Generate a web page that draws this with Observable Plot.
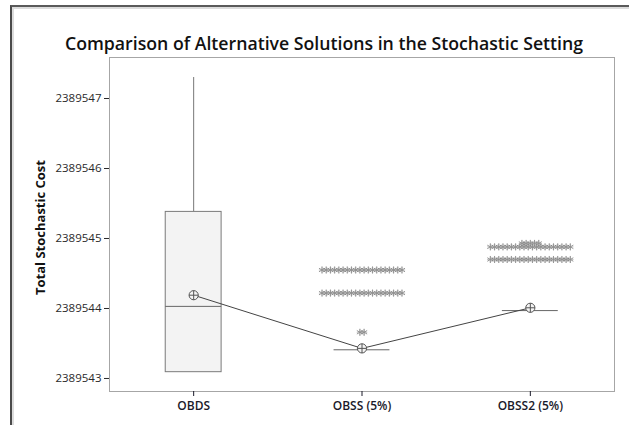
<!DOCTYPE html>
<html><head><meta charset="utf-8">
<script src="https://cdn.jsdelivr.net/npm/d3@7"></script>
<script src="https://cdn.jsdelivr.net/npm/@observablehq/plot@0.6"></script>
<style>
html,body{margin:0;padding:0;background:#fff;}
#wrap{position:relative;width:629px;height:425px;overflow:hidden;background:#fff;}
#border{position:absolute;left:10px;top:5px;width:700px;height:500px;border-top:2px solid #5a5a5a;border-left:2px solid #4a4a4a;box-shadow:inset 2px 2px 0 #dcdcdc;}
#chart{position:absolute;left:0;top:0;}
</style></head><body><div id="wrap"><div id="border"></div><div id="chart"></div></div>
<script>
const title = "Comparison of Alternative Solutions in the Stochastic Setting";
const yLabel = "Total Stochastic Cost";
const categories = ["OBDS", "OBSS (5%)", "OBSS2 (5%)"];
const yTicks = [2389543, 2389544, 2389545, 2389546, 2389547];
const whiskerLow  = [2389543.09, 2389543.41, 2389543.97];
const q1          = [2389543.09, 2389543.41, 2389543.97];
const median      = [2389544.03, 2389543.41, 2389543.97];
const q3          = [2389545.38, 2389543.41, 2389543.97];
const whiskerHigh = [2389547.30, 2389543.41, 2389543.97];
const means       = [2389544.19, 2389543.43, 2389544.01];
// outlier groups: category index, value, number of observations at that value
const outlierCat   = [1, 1, 1, 2, 2, 2];
const outlierValue = [2389544.55, 2389544.22, 2389543.66, 2389544.93, 2389544.88, 2389544.70];
const outlierCount = [20, 20, 2, 5, 20, 20];

const halfBox = 0.166;
const outlierStep = 0.025;
const idx = categories.map((_, i) => i);

// spread repeated outliers side by side (like Minitab)
const outliers = [];
outlierCat.forEach((c, g) => {
  const n = outlierCount[g];
  for (let k = 0; k < n; k++) {
    outliers.push({x: c + (k - (n - 1) / 2) * outlierStep, y: outlierValue[g]});
  }
});

const font = "'Open Sans', 'Noto Sans', sans-serif";
const chart = Plot.plot({
  width: 629, height: 425,
  marginLeft: 109, marginRight: 15, marginTop: 57, marginBottom: 34,
  style: {fontFamily: font, fontSize: "11px", background: "transparent", color: "#222"},
  x: {domain: [-0.5, 2.5]},
  y: {domain: [2389542.814, 2389547.586]},
  marks: [
    Plot.frame({stroke: "#a6a6a6"}),
    Plot.axisY({ticks: yTicks, tickFormat: d3.format("d"), tickSize: 5, tickPadding: 3, label: null, fontSize: 11.5, fontWeight: 500, color: "#2a2a2a"}),
    Plot.axisX({ticks: idx, tickFormat: i => categories[i], tickSize: 5, tickPadding: 5, label: null, fontSize: 12, fontWeight: 600, color: "#1a1a2a"}),
    Plot.ruleX(idx, {x: i => i, y1: i => q3[i], y2: i => whiskerHigh[i], stroke: "#777"}),
    Plot.ruleX(idx, {x: i => i, y1: i => q1[i], y2: i => whiskerLow[i], stroke: "#777"}),
    Plot.rect(idx, {x1: i => i - halfBox, x2: i => i + halfBox, y1: i => q1[i], y2: i => q3[i], fill: "#f3f3f3", stroke: "#7a7a7a"}),
    Plot.ruleY(idx, {y: i => median[i], x1: i => i - halfBox, x2: i => i + halfBox, stroke: "#666"}),
    Plot.line(idx, {x: i => i, y: i => means[i], stroke: "#444", strokeWidth: 1}),
    Plot.dot(idx, {x: i => i, y: i => means[i], r: 4.6, fill: "#f3f3f3", stroke: "#555", strokeWidth: 1}),
    Plot.dot(idx, {x: i => i, y: i => means[i], symbol: "plus", r: 3.1, stroke: "#555", strokeWidth: 1}),
    Plot.dot(outliers, {x: "x", y: "y", symbol: "asterisk", r: 3.3, stroke: "#777", strokeWidth: 0.8}),
    Plot.dot(outliers, {x: "x", y: "y", symbol: "plus", r: 2.2, stroke: "#999", strokeWidth: 0.6}),
    Plot.text([title], {frameAnchor: "top", dx: -38, dy: -20, fontSize: 17.7, fontWeight: 600, fill: "#111", fontFamily: font}),
    Plot.text([yLabel], {frameAnchor: "left", dx: -69, dy: 3, rotate: -90, textAnchor: "middle", fontSize: 13, fontWeight: "bold", fill: "#111", fontFamily: font})
  ]
});
document.getElementById("chart").appendChild(chart);
</script>
</body></html>
